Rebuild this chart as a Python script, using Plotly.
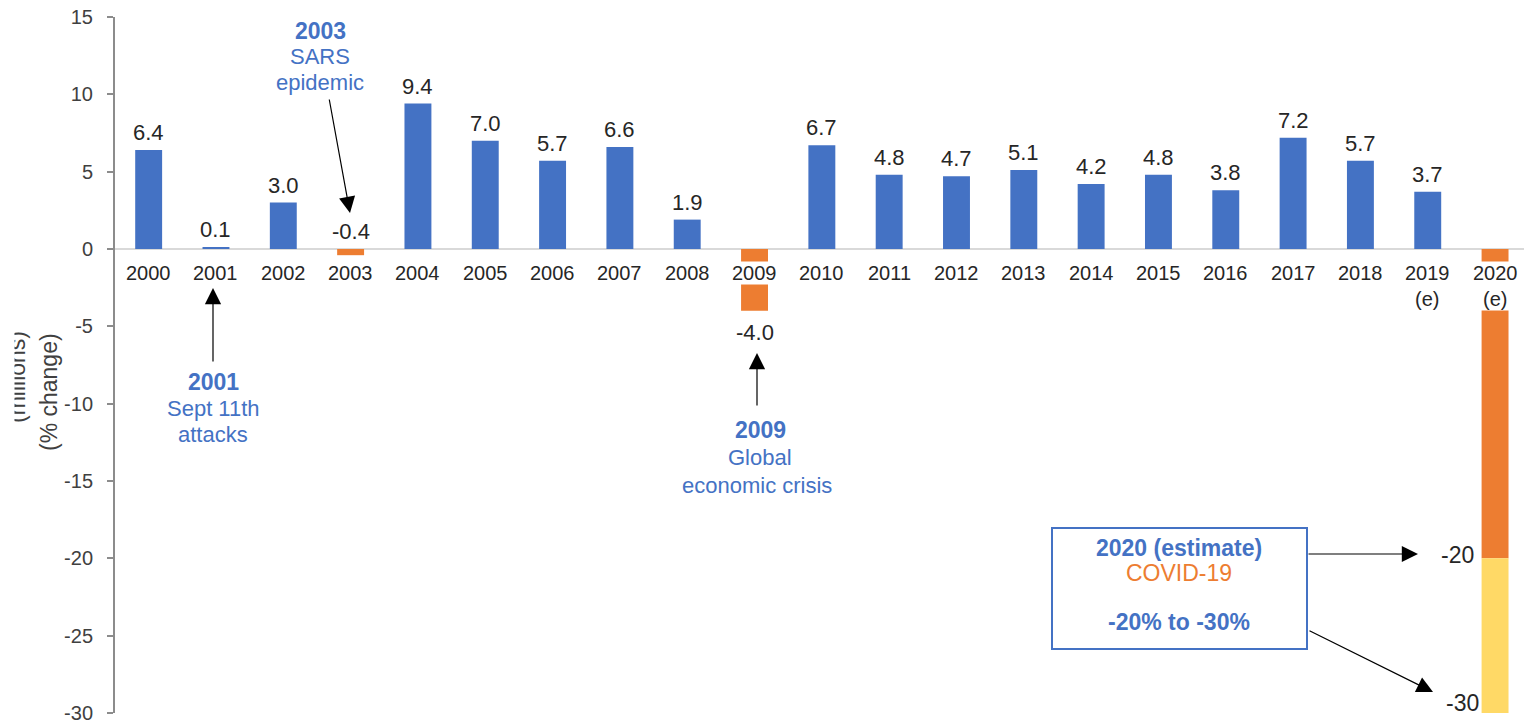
import plotly.graph_objects as go

# ---------------- data ----------------
years = list(range(2000, 2021))
growth = [6.4, 0.1, 3.0, -0.4, 9.4, 7.0, 5.7, 6.6, 1.9, -4.0,
          6.7, 4.8, 4.7, 5.1, 4.2, 4.8, 3.8, 7.2, 5.7, 3.7, -20.0]
covid_low = -20.0
covid_high = -30.0
year_labels = [str(y) for y in range(2000, 2019)] + ["2019<br>(e)", "2020<br>(e)"]
decline_years = [2003, 2009, 2020]
y_ticks = [15, 10, 5, 0, -5, -10, -15, -20, -25, -30]

BLUE = "#4472C4"
ORANGE = "#ED7D31"
YELLOW = "#FFD966"
TXT = "#262626"
AX = "#8C8C8C"
FONT = "Liberation Sans, Arial, sans-serif"

# ---------------- layout geometry ----------------
WIDTH, HEIGHT = 1524, 724
L, R, T, B = 115, 0, 17, 11
XR = [1999.5, 2020.43]
YR = [-30, 15]
PW = WIDTH - L - R
PH = HEIGHT - T - B


def px2x(px):
    return XR[0] + (px - L) / PW * (XR[1] - XR[0])


def py2y(py):
    return YR[1] - (py - T) / PH * (YR[1] - YR[0])


def px2paper(px):
    return (px - L) / PW


def py2paper(py):
    return (HEIGHT - B - py) / PH


colors = [ORANGE if y in decline_years else BLUE for y in years]

fig = go.Figure()
fig.add_trace(go.Bar(x=years, y=growth, marker_color=colors, width=0.4,
                     marker_line_width=0, hoverinfo="skip", showlegend=False))
fig.add_trace(go.Bar(x=[2020], y=[covid_high - covid_low], marker_color=YELLOW,
                     width=0.4, marker_line_width=0, hoverinfo="skip", showlegend=False))

ann = []

# data labels
for y, v in zip(years, growth):
    if y == 2020:
        continue
    if y == 2009:
        ann.append(dict(x=y, y=v, text=f"{v:.1f}", showarrow=False, yanchor="top",
                        yshift=-7, font=dict(size=22, color=TXT, family=FONT)))
    else:
        ann.append(dict(x=y, y=max(v, 0), text=f"{v:.1f}", showarrow=False,
                        yanchor="bottom", yshift=3,
                        font=dict(size=22, color=TXT, family=FONT)))

# x tick labels (white background, drawn over the bars)
for y, lab in zip(years, year_labels):
    ann.append(dict(x=y, y=0, text=lab, showarrow=False, yanchor="top", yshift=-12,
                    bgcolor="white", borderpad=0,
                    font=dict(size=20, color=TXT, family=FONT)))


def txt(px, py, s, color=BLUE, bold=False, size=22):
    return dict(x=px2x(px), y=py2y(py), text=f"<b>{s}</b>" if bold else s,
                showarrow=False, xanchor="center", yanchor="middle",
                font=dict(size=size, color=color, family=FONT))


def arrow(hx, hy, tx, ty):
    return dict(x=px2x(hx), y=py2y(hy), ax=tx - hx, ay=ty - hy, text="",
                showarrow=True, arrowhead=2, arrowsize=2.7, arrowwidth=1.2,
                arrowcolor="#000000", standoff=0)


# 2003 SARS
ann += [txt(320, 31, "2003", bold=True, size=23), txt(320, 56, "SARS"), txt(320, 82, "epidemic"),
        arrow(350, 213, 329, 98)]
# 2001
ann += [txt(213, 382, "2001", bold=True, size=23), txt(213, 408, "Sept 11th"), txt(213, 434, "attacks"),
        arrow(213, 288, 213, 363)]
# 2009
ann += [txt(760, 430, "2009", bold=True, size=23), txt(760, 457, "Global"),
        txt(757, 485, "economic crisis"), arrow(757, 353, 757, 407)]
# 2020 box
ann += [txt(1179, 548, "2020 (estimate)", bold=True, size=23),
        txt(1179, 573, "COVID-19", color=ORANGE, size=23),
        txt(1179, 622, "-20% to -30%", bold=True, size=23),
        arrow(1418, 554, 1307, 554), arrow(1433, 692, 1308, 630)]
ann.append(dict(x=px2x(1457), y=covid_low, text=f"{covid_low:.0f}", showarrow=False,
                yshift=3, font=dict(size=23, color=TXT, family=FONT)))
ann.append(dict(x=px2x(1462), y=covid_high, text=f"{covid_high:.0f}", showarrow=False,
                yshift=10, font=dict(size=23, color=TXT, family=FONT)))

# y-axis titles
ann.append(dict(xref="paper", yref="paper", x=px2paper(49), y=py2paper(392),
                xanchor="center", yanchor="middle",
                text="(% change)", textangle=-90, showarrow=False,
                font=dict(size=23, color="#404040", family=FONT)))
ann.append(dict(xref="paper", yref="paper", x=px2paper(17), y=py2paper(377),
                xanchor="center", yanchor="middle",
                text="(millions)", textangle=-90, showarrow=False,
                font=dict(size=23, color="#404040", family=FONT)))
# mask clipping the left part of "(millions)"
ann.append(dict(xref="paper", yref="paper", x=px2paper(0), y=py2paper(377),
                xanchor="left", yanchor="middle", text="\u00a0", showarrow=False,
                width=13, height=140, bgcolor="white", borderpad=0, font=dict(size=10)))

shapes = [dict(type="rect", xref="x", yref="y", x0=px2x(1052), x1=px2x(1307),
               y0=py2y(528), y1=py2y(649), line=dict(color=BLUE, width=2),
               fillcolor="rgba(0,0,0,0)", layer="above")]

fig.update_layout(
    width=WIDTH, height=HEIGHT,
    margin=dict(l=L, r=R, t=T, b=B, pad=0),
    paper_bgcolor="white", plot_bgcolor="white",
    barmode="relative",
    showlegend=False,
    annotations=ann,
    shapes=shapes,
    font=dict(family=FONT),
    xaxis=dict(range=XR, showticklabels=False, showgrid=False, zeroline=False,
               showline=False, ticks=""),
    yaxis=dict(range=YR, tickvals=y_ticks, ticktext=[str(t) for t in y_ticks],
               showgrid=False, zeroline=True, zerolinecolor="#D9D9D9", zerolinewidth=1.5,
               showline=True, linecolor=AX, linewidth=2, ticks="outside", ticklen=6,
               tickwidth=2, tickcolor=AX, ticklabelstandoff=10,
               tickfont=dict(size=20, color="#404040", family=FONT)),
    yaxis2=dict(range=YR, overlaying="y", side="left", anchor="x", tickvals=y_ticks,
                showticklabels=False, showgrid=False, zeroline=False, showline=False,
                ticks="inside", ticklen=6, tickwidth=2, tickcolor=AX),
)

fig.write_html("out.html")
